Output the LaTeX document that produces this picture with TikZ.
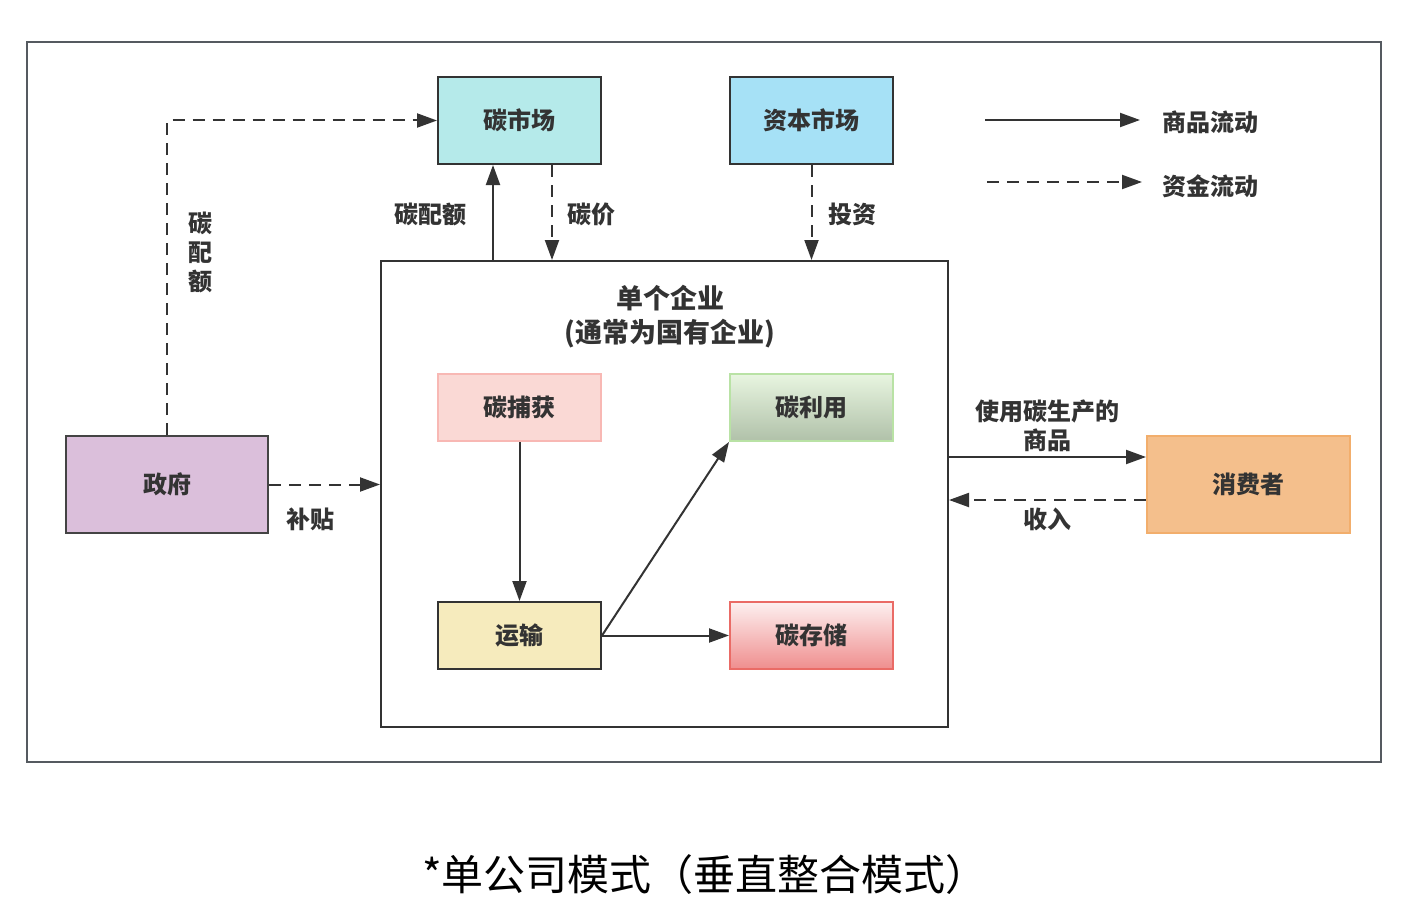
\documentclass[tikz,border=0pt]{standalone}
\usepackage{fontspec}
\setmainfont{Noto Sans CJK SC}
\newfontfamily\cjk{Noto Sans CJK SC}
\usetikzlibrary{arrows.meta}
\definecolor{txt}{HTML}{333333}
\definecolor{frame}{HTML}{555A60}
\definecolor{ln}{HTML}{333333}
\definecolor{cmfill}{HTML}{B5EAEA}
\definecolor{capfill}{HTML}{A6E1F6}
\definecolor{govfill}{HTML}{DBBFDB}
\definecolor{govdraw}{HTML}{444444}
\definecolor{confill}{HTML}{F4BF8C}
\definecolor{condraw}{HTML}{F2AE6C}
\definecolor{capfillp}{HTML}{FAD9D5}
\definecolor{capdrawp}{HTML}{F8B8B4}
\definecolor{usetop}{HTML}{E8F5E0}
\definecolor{usebot}{HTML}{B0C1A9}
\definecolor{usedraw}{HTML}{B9E2A5}
\definecolor{yunfill}{HTML}{F6EBBD}
\definecolor{stotop}{HTML}{FDF0F0}
\definecolor{stobot}{HTML}{EF8E8E}
\definecolor{stodraw}{HTML}{EA6B66}
\tikzset{
  box/.style={draw=ln, line width=1pt, minimum width=81.5pt, minimum height=43.5pt, inner sep=0pt, font=\cjk\bfseries\fontsize{12}{14}\selectfont, text=txt},
  small/.style={box, minimum height=33.5pt},
  lbl/.style={font=\cjk\bfseries\fontsize{12}{14}\selectfont, text=txt, inner sep=0pt, align=center},
  flow/.style={draw=ln, line width=1pt, -{Triangle[length=10pt,width=7pt]}},
  money/.style={flow, dash pattern=on 6pt off 4pt},
}
\begin{document}
\begin{tikzpicture}[x=0.5pt,y=-0.5pt]
\useasboundingbox[fill=white] (0,0) rectangle (1408,915);
\draw[frame, line width=1.25pt] (27,42) rectangle (1381,762);

% enterprise
\node[draw=ln, line width=1pt, minimum width=283.5pt, minimum height=233pt, inner sep=0pt] (ent) at (664.5,494) {};
\node[lbl, font=\cjk\bfseries\fontsize{13.5}{17}\selectfont] (title) at (670,317) {单个企业\\(通常为国有企业)};

% markets
\node[box, fill=cmfill] (cm) at (519.5,120.5) {碳市场};
\node[box, fill=capfill] (cap) at (811.5,120.5) {资本市场};

% government, consumer
\node[box, fill=govfill, draw=govdraw, minimum width=101pt, minimum height=48.5pt] (gov) at (167,484.5) {政府};
\node[box, fill=confill, draw=condraw, minimum width=101.5pt, minimum height=48.5pt] (con) at (1248.5,484.5) {消费者};

% inner nodes
\node[small, fill=capfillp, draw=capdrawp] (capt) at (519.5,407.5) {碳捕获};
\node[small, top color=usetop, bottom color=usebot, draw=usedraw] (use) at (811.5,407.5) {碳利用};
\node[small, fill=yunfill] (yun) at (519.5,635.5) {运输};
\node[small, top color=stotop, bottom color=stobot, draw=stodraw] (sto) at (811.5,635.5) {碳存储};

% connectors top
\coordinate (q1) at ([xshift=-13.25pt]cm.south);
\coordinate (p1) at ([xshift=16.25pt]cm.south);
\draw[flow] (q1 |- ent.north) -- (q1);
\draw[money] (p1) -- (p1 |- ent.north);
\draw[money] (cap.south) -- (cap.south |- ent.north);
\draw[money] (gov.north) |- (cm.west);
\node[lbl] (l1) at (430,214) {碳配额};
\node[lbl] (l2) at (591,214) {碳价};
\node[lbl] (l3) at (852,214) {投资};
\node[lbl, align=center, font=\cjk\bfseries\fontsize{12}{14.5}\selectfont] (l4) at (200,252) {碳\\配\\额};

% gov -> ent
\draw[money] (gov.east) -- (gov.east -| ent.west);
\node[lbl] (l5) at (310,519) {补贴};

% ent <-> consumer
\coordinate (c1) at ([yshift=13.75pt]con.west);
\coordinate (c2) at ([yshift=-7.75pt]con.west);
\draw[flow] (c1 -| ent.east) -- (c1);
\draw[money] (c2) -- (c2 -| ent.east);
\node[lbl, font=\cjk\bfseries\fontsize{12}{14.5}\selectfont] (l6) at (1047,426) {使用碳生产的\\商品};
\node[lbl] (l7) at (1047,519) {收入};

% inner flows
\draw[flow] (capt.south) -- (yun.north);
\draw[flow] (yun.east) -- (sto.west);
\draw[flow] (yun.east) -- (use.south west);

% legend
\coordinate (la1) at (985,120);
\coordinate (lb1) at (1140,120);
\coordinate (la2) at (987,182);
\coordinate (lb2) at (1142,182);
\draw[flow] (la1) -- (lb1);
\draw[money] (la2) -- (lb2);
\node[lbl, anchor=west] (lg1) at (1162,122) {商品流动};
\node[lbl, anchor=west] (lg2) at (1162,186) {资金流动};

% caption
\node[font=\cjk\fontsize{21}{24}\selectfont, text=black, inner sep=0pt] (cap2) at (705,875) {*单公司模式（垂直整合模式）};
\end{tikzpicture}
\end{document}
